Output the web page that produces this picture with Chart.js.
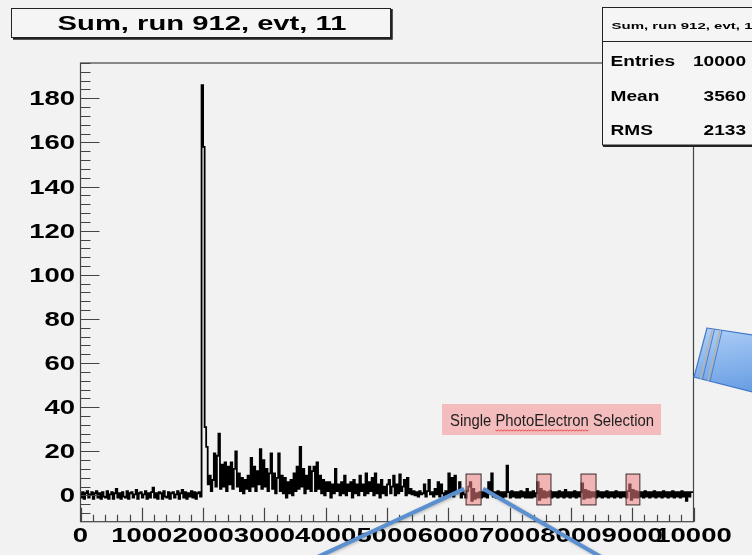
<!DOCTYPE html>
<html>
<head>
<meta charset="utf-8">
<title>Sum, run 912, evt, 11</title>
<script src="https://cdn.jsdelivr.net/npm/chart.js@4.4.1/dist/chart.umd.min.js"></script>
<style>
  html, body { margin: 0; padding: 0; background: #f2f2f2; }
  #wrap { width: 752px; height: 555px; }
</style>
</head>
<body>
<div id="wrap"><canvas id="sumChart" width="752" height="555"></canvas></div>
<script>
// summed waveform, one value per 25-sample bin
const binWidth = 25;
const preTrigger = [
  1,-1,1.5,-1.5,1,2,-1,0.5,1.5,-1.5,1,2,-1,1,-1.5,1.5,-0.5,-1,2,-1.5,
  0.5,1.5,-1.5,1,3,-1,1,-1.5,1.5,-0.5,-1,2,-1.5,1,1.5,-1,0.5,2.5,-1.5,1,
  1.5,-1,0.5,2,-1.5,1,-1,1.5,3.5,-1,1,-1.5,1.5,1,-1.5,2,-0.5,-1,1.5,-1.5,
  1,1.5,-1,0.5,2,-1.5,1,2.5,-1,1.5,-1.5,1,-0.5,2,-1,1.5,-1.5,1,1.5,-0.5
];
const pulseTrain = [
  186,158,31,22,5,9,2,7,19,4,18,28,3,14,4,15,2,13,5,15,
  3,12,20,4,10,2,8,1,7,3,9,2,17,4,13,2,11,5,21,3,
  16,4,12,2,10,19,3,10,1,8,19,2,9,1,8,-1,6,1,7,0,
  10,2,13,3,22,4,12,1,9,3,13,2,11,13,2,15,3,9,1,7,
  0,6,2,6,-1,5,1,12,2,5,0,6,1,9,0,5,2,6,-1,7,
  1,5,0,9,2,5,0,10,1,6,2,8,0,10,1,5,-1,7,1,4,
  0,5,7,1,4,9,0,5,1,9.5,2,4,7,0,8,1,3,0.5,2,0,
  1.5,-0.5,2,0.5,1,5,-0.5,2,7,0.5,1.5,-0.5,3,0.5,6,-0.5,5,1,-0.5,2
];
const tail = [
  0.5,10,1,8,-0.5,9,1,2,6,-1,1.5,0.5,-1,2,4,6,-2.5,3,-1.5,1,
  -1,1.5,-1,1.5,-0.5,2,-1,6,1,10,-0.5,1.5,-1,2,-0.5,1.5,-1,1.5,-0.5,13.5,
  1.5,-1,2,-0.5,1.5,-1,1.5,-1,2,-0.5,1.5,-1,3,-1,1.5,-1,2,-0.5,1,6,
  -2,3,-1,2,-1,1.5,-0.5,2,-1,1.5,-0.5,1.5,-1,2,-0.5,1.5,-1,2.5,-0.5,1.5,
  -1,1.5,-0.5,2,-1,1.5,-0.5,1.5,5.5,-1.5,2.5,-1,2,-1,1.5,-0.5,1.5,-1,2,-0.5,
  1.5,-1,1.5,-0.5,2,-1,1.5,-0.5,1.5,-1,2,-0.5,1.5,-1,1.5,-0.5,1.5,-1,2,5,
  -2,2.5,-1,2,-1,1.5,-0.5,1.5,-1,2,-0.5,1.5,-1,1.5,-0.5,2,-1,1.5,-0.5,1.5,
  -1,2,-0.5,1.5,-1,1.5,-0.5,2,-1,1.5,-0.5,1.5,-1,2,-0.5,1.5,-2.5,1.5,-0.5,1.5
];

const xTickLabels = [0,1000,2000,3000,4000,5000,6000,7000,8000,9000,10000];
const yTickLabels = [0,20,40,60,80,100,120,140,160,180];

const histTitle = 'Sum, run 912, evt, 11';
const statNames = ['Entries', 'Mean', 'RMS'];
const statValues = [10000, 3560, 2133];

// single photoelectron windows [start, end] in samples
const speWindows = [[6290, 6535], [7445, 7675], [8165, 8410], [8900, 9125]];
const speLabel = 'Single PhotoElectron Selection';

const counts = preTrigger.concat(pulseTrain, tail);
const points = counts.map((v, i) => ({ x: i * binWidth, y: v }));
points.push({ x: counts.length * binWidth, y: counts[counts.length - 1] });

const FONT = '"Liberation Sans", Arial, Helvetica, sans-serif';

// ROOT-style text is wide, so stretch horizontally
function wideText(ctx, text, x, y, font, sx, align) {
  ctx.save();
  ctx.font = font;
  ctx.textAlign = align || 'left';
  ctx.textBaseline = 'alphabetic';
  ctx.translate(x, y);
  ctx.scale(sx, 1);
  ctx.fillText(text, 0, 0);
  ctx.restore();
}

const rootFrame = {
  id: 'rootFrame',
  beforeDraw(chart) {
    const ctx = chart.ctx;
    ctx.save();
    ctx.fillStyle = '#f2f2f2';
    ctx.fillRect(0, 0, chart.width, chart.height);
    ctx.restore();
  },
  afterDatasetsDraw(chart) {
    const ctx = chart.ctx;
    const xs = chart.scales.x, ys = chart.scales.y;
    const a = chart.chartArea;

    // selection windows over the trace
    ctx.save();
    speWindows.forEach(w => {
      const x0 = xs.getPixelForValue(w[0]), x1 = xs.getPixelForValue(w[1]);
      const y0 = ys.getPixelForValue(9.7), y1 = ys.getPixelForValue(-4.3);
      ctx.fillStyle = 'rgba(238,130,130,0.55)';
      ctx.fillRect(x0, y0, x1 - x0, y1 - y0);
      ctx.strokeStyle = '#3a2a2a';
      ctx.lineWidth = 1;
      ctx.strokeRect(x0, y0, x1 - x0, y1 - y0);
    });
    ctx.restore();

    // frame and inward ticks
    ctx.save();
    ctx.strokeStyle = '#444';
    ctx.lineWidth = 1.2;
    ctx.strokeRect(a.left, a.top, a.right - a.left, a.bottom - a.top);
    ctx.beginPath();
    const yStep = (yTickLabels[1] - yTickLabels[0]) / 5;
    for (let v = Math.ceil(ys.min / yStep) * yStep; v <= ys.max; v += yStep) {
      const py = Math.round(ys.getPixelForValue(v)) + 0.5;
      const len = Math.abs(v % (yStep * 5)) < 1e-6 ? 19 : 10;
      ctx.moveTo(a.left, py);
      ctx.lineTo(a.left + len, py);
    }
    const xStep = (xTickLabels[1] - xTickLabels[0]) / 5;
    for (let v = xs.min; v <= xs.max + 1e-6; v += xStep) {
      const px = Math.round(xs.getPixelForValue(v)) + 0.5;
      const len = Math.abs(v % (xStep * 5)) < 1e-6 ? 14 : 7;
      ctx.moveTo(px, a.bottom);
      ctx.lineTo(px, a.bottom - len);
    }
    ctx.stroke();
    ctx.restore();

    // tick labels
    ctx.save();
    ctx.fillStyle = '#000';
    const tickFont = 'bold 19.5px ' + FONT;
    yTickLabels.forEach(v => {
      wideText(ctx, String(v), a.left - 5.5, ys.getPixelForValue(v) + 7, tickFont, 1.41, 'right');
    });
    xTickLabels.forEach(v => {
      wideText(ctx, String(v), xs.getPixelForValue(v), 542, tickFont, 1.41, 'center');
    });
    ctx.restore();
  },
  afterDraw(chart) {
    const ctx = chart.ctx;
    const xs = chart.scales.x, ys = chart.scales.y;

    // title box
    ctx.save();
    ctx.fillStyle = '#f5f5f5';
    ctx.fillRect(11.5, 8.5, 379, 29);
    ctx.strokeStyle = '#222';
    ctx.lineWidth = 1;
    ctx.strokeRect(11.5, 8.5, 379, 29);
    ctx.lineWidth = 2.5;
    ctx.beginPath();
    ctx.moveTo(391.5, 9);
    ctx.lineTo(391.5, 38.5);
    ctx.lineTo(13, 38.5);
    ctx.stroke();
    ctx.fillStyle = '#000';
    wideText(ctx, histTitle, 202, 29.5, 'bold 21px ' + FONT, 1.39, 'center');
    ctx.restore();

    // statistics box (runs off the right edge)
    ctx.save();
    ctx.fillStyle = '#f5f5f5';
    ctx.fillRect(602, 7.5, 160, 137.5);
    ctx.strokeStyle = '#222';
    ctx.lineWidth = 1;
    ctx.strokeRect(602.5, 7.5, 160, 137.5);
    ctx.lineWidth = 2;
    ctx.beginPath();
    ctx.moveTo(603, 146);
    ctx.lineTo(760, 146);
    ctx.stroke();
    ctx.lineWidth = 1;
    ctx.beginPath();
    ctx.moveTo(602.5, 41.5);
    ctx.lineTo(760, 41.5);
    ctx.stroke();
    ctx.fillStyle = '#000';
    const headFont = 'bold 9.5px ' + FONT;
    ctx.font = headFont;
    const headSx = 141 / ctx.measureText(histTitle.slice(0, -1)).width;
    wideText(ctx, histTitle, 611.5, 29.3, headFont, headSx, 'left');
    const rows = [66, 100.7, 135];
    statNames.forEach((n, i) => {
      wideText(ctx, n, 610.5, rows[i], 'bold 15.4px ' + FONT, 1.24, 'left');
      wideText(ctx, String(statValues[i]), 746, rows[i], 'bold 15.4px ' + FONT, 1.24, 'right');
    });
    ctx.restore();

    // selection label
    ctx.save();
    ctx.fillStyle = '#f4bcbc';
    ctx.fillRect(442, 404, 219, 31);
    ctx.font = '16px ' + FONT;
    const full = ctx.measureText(speLabel).width;
    const sx = 204 / full;
    ctx.fillStyle = '#1e1e1e';
    wideText(ctx, speLabel, 450, 426, '16px ' + FONT, sx, 'left');
    const w1 = ctx.measureText('Single ').width * sx;
    const w2 = ctx.measureText('PhotoElectron').width * sx;
    ctx.strokeStyle = '#e03030';
    ctx.lineWidth = 0.8;
    ctx.beginPath();
    for (let x = 0; x <= w2; x += 1.5) {
      const yy = 430 + ((Math.round(x / 1.5) % 2) ? 1 : 0);
      if (x === 0) ctx.moveTo(450 + w1 + x, yy); else ctx.lineTo(450 + w1 + x, yy);
    }
    ctx.stroke();
    ctx.restore();

    // callout lines from the first window
    const first = speWindows[0];
    const lx = xs.getPixelForValue(first[0]) - 2;
    const rx = xs.getPixelForValue(first[1]) + 2;
    const sy = ys.getPixelForValue(3);
    ctx.save();
    ctx.strokeStyle = '#5a8fd0';
    ctx.lineWidth = 4;
    ctx.shadowColor = 'rgba(0,0,0,0.25)';
    ctx.shadowBlur = 3;
    ctx.shadowOffsetX = 1;
    ctx.shadowOffsetY = 1;
    ctx.beginPath();
    ctx.moveTo(lx, sy);
    ctx.lineTo(lx - 2.15 * (560 - sy), 560);
    ctx.moveTo(rx, sy);
    ctx.lineTo(rx + 1.73 * (560 - sy), 560);
    ctx.stroke();
    ctx.restore();

    // tilted marker shape at the right edge
    ctx.save();
    const g = ctx.createLinearGradient(720, 330, 730, 392);
    g.addColorStop(0, '#a9cbf6');
    g.addColorStop(1, '#6a9fe3');
    ctx.beginPath();
    ctx.moveTo(707, 328);
    ctx.lineTo(760, 336);
    ctx.lineTo(760, 394);
    ctx.lineTo(694, 377);
    ctx.closePath();
    ctx.fillStyle = g;
    ctx.fill();
    ctx.strokeStyle = '#4379c9';
    ctx.lineWidth = 1.2;
    ctx.stroke();
    ctx.strokeStyle = '#b8b2a4';
    ctx.lineWidth = 1.4;
    ctx.beginPath();
    ctx.moveTo(712.5, 329);
    ctx.lineTo(700.5, 379);
    ctx.moveTo(720, 330);
    ctx.lineTo(708, 381);
    ctx.stroke();
    ctx.strokeStyle = '#4a80cf';
    ctx.lineWidth = 1;
    ctx.beginPath();
    ctx.moveTo(714.5, 329.5);
    ctx.lineTo(702.5, 379.5);
    ctx.moveTo(722, 330.5);
    ctx.lineTo(710, 381.5);
    ctx.stroke();
    ctx.restore();
  }
};

new Chart(document.getElementById('sumChart').getContext('2d'), {
  type: 'line',
  data: {
    datasets: [{
      label: histTitle,
      data: points,
      borderColor: '#000',
      borderWidth: 1.8,
      pointRadius: 0,
      stepped: 'after',
      fill: false
    }]
  },
  options: {
    responsive: false,
    animation: false,
    events: [],
    layout: { padding: { top: 63, right: 58.5, left: 0, bottom: 0 } },
    plugins: { legend: { display: false }, tooltip: { enabled: false } },
    scales: {
      x: {
        type: 'linear', min: 0, max: 10000,
        afterBuildTicks: s => { s.ticks = xTickLabels.map(v => ({ value: v })); },
        afterFit: s => { s.height = 33.3; },
        ticks: { display: false },
        grid: { display: false, drawTicks: false },
        border: { display: false }
      },
      y: {
        type: 'linear', min: -11.9, max: 196,
        afterBuildTicks: s => { s.ticks = yTickLabels.map(v => ({ value: v })); },
        afterFit: s => { s.width = 80.5; },
        ticks: { display: false },
        grid: { display: false, drawTicks: false },
        border: { display: false }
      }
    }
  },
  plugins: [rootFrame]
});
</script>
</body>
</html>
